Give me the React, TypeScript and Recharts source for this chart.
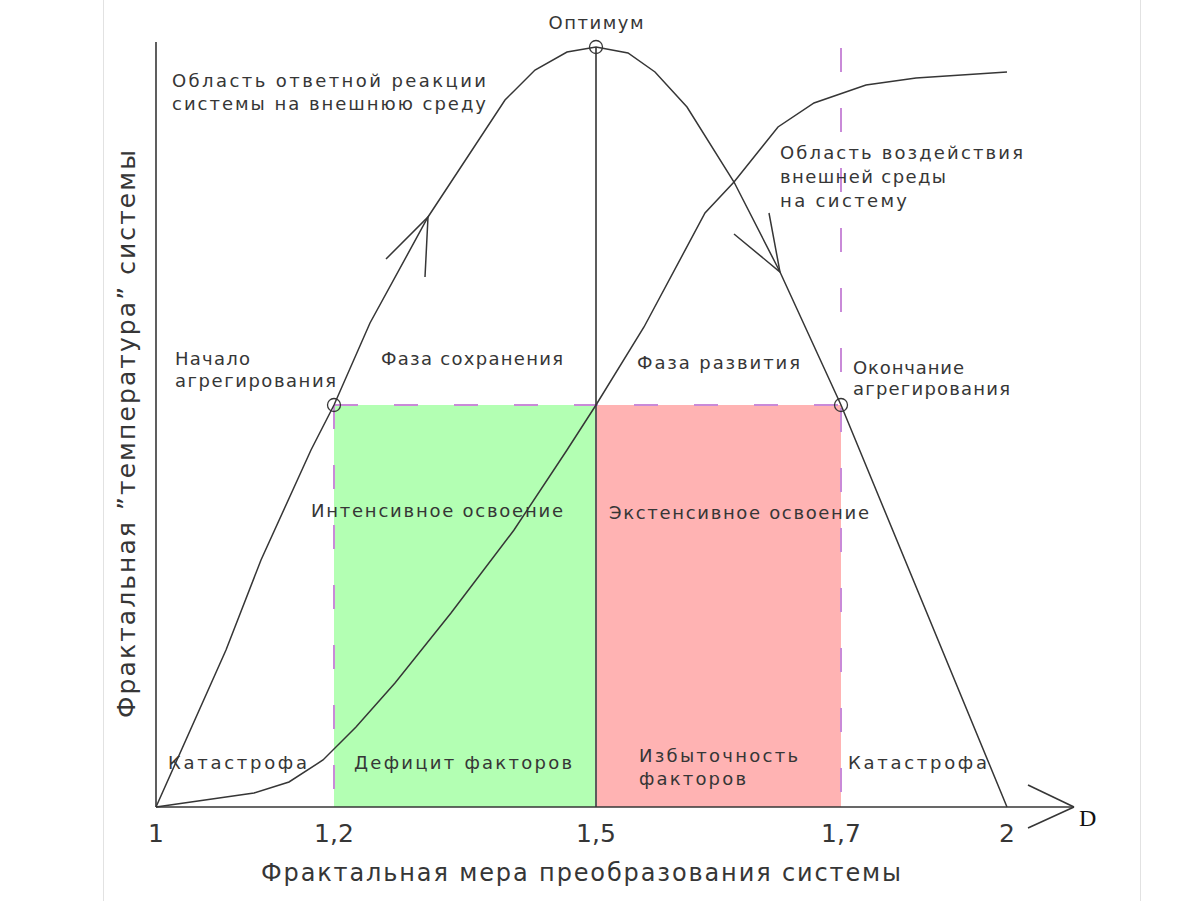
import React from 'react';
import {
  ComposedChart,
  Line,
  Scatter,
  XAxis,
  YAxis,
  ReferenceArea,
  ReferenceLine,
  ReferenceDot,
} from 'recharts';

const FONT = '"DejaVu Sans", "Noto Sans", sans-serif';
const INK = '#363636';
const DASH = '#c98ad8';

// D axis is schematic in the source (ticks not to scale), so x is a position along the axis
const dTicks = [0, 178, 440, 685, 851];
const dLabels = ['1', '1,2', '1,5', '1,7', '2'];

// response of the system to the environment (bell)
const responseCurve = [
  { x: 0, y: 0 },
  { x: 70, y: 157 },
  { x: 105, y: 247 },
  { x: 155, y: 357 },
  { x: 178, y: 402 },
  { x: 214, y: 484 },
  { x: 272, y: 590 },
  { x: 349, y: 707 },
  { x: 379, y: 737 },
  { x: 411, y: 755 },
  { x: 440, y: 760 },
  { x: 472, y: 754 },
  { x: 499, y: 735 },
  { x: 531, y: 700 },
  { x: 578, y: 625 },
  { x: 624, y: 535 },
  { x: 685, y: 402 },
  { x: 851, y: 0 },
];

// impact of the environment on the system (S-curve)
const environmentCurve = [
  { x: 0, y: 0 },
  { x: 98, y: 14 },
  { x: 133, y: 25 },
  { x: 167, y: 47 },
  { x: 200, y: 80 },
  { x: 239, y: 124 },
  { x: 295, y: 194 },
  { x: 358, y: 277 },
  { x: 411, y: 357 },
  { x: 440, y: 402 },
  { x: 488, y: 480 },
  { x: 549, y: 594 },
  { x: 578, y: 625 },
  { x: 622, y: 680 },
  { x: 658, y: 704 },
  { x: 710, y: 722 },
  { x: 760, y: 729 },
  { x: 851, y: 735 },
];

const keyPoints = [
  { x: 178, y: 402 },
  { x: 440, y: 760 },
  { x: 685, y: 402 },
];

const riseArrow = [
  { x: 230, y: 548 },
  { x: 272, y: 590 },
  { x: 269, y: 530 },
];

const fallArrow = [
  { x: 578, y: 573 },
  { x: 624, y: 535 },
  { x: 613, y: 594 },
];

const aggregationLevel = 402;
const optimumLevel = 760;

const notes = [
  { x: 440, y: 785, lines: ['Оптимум'], fit: [95], anchor: 'middle' },
  { x: 16, y: 727, lines: ['Область  ответной  реакции', 'системы  на  внешнюю  среду'], fit: [314, 314] },
  { x: 19, y: 449, lines: ['Начало', 'агрегирования'], fit: [75, 161], gap: 22 },
  { x: 225, y: 449, lines: ['Фаза  сохранения'], fit: [182] },
  { x: 481, y: 445, lines: ['Фаза  развития'], fit: [163] },
  { x: 697, y: 440, lines: ['Окончание', 'агрегирования'], fit: [111, 157], gap: 21 },
  { x: 624, y: 655, lines: ['Область  воздействия', 'внешней  среды', 'на  систему'], fit: [243, 166, 127], gap: 24 },
  { x: 155, y: 297, lines: ['Интенсивное  освоение'], fit: [252] },
  { x: 453, y: 295, lines: ['Экстенсивное  освоение'], fit: [260] },
  { x: 12, y: 45, lines: ['Катастрофа'], fit: [139] },
  { x: 198, y: 45, lines: ['Дефицит  факторов'], fit: [218] },
  { x: 483, y: 52, lines: ['Избыточность', 'факторов'], fit: [159, 107] },
  { x: 692, y: 45, lines: ['Катастрофа'], fit: [139] },
];

const xTitle = 'Фрактальная  мера  преобразования  системы';
const yTitle = 'Фрактальная  ”температура”  системы';

const noteShape = (n: any) => (p: any) => (
  <g>
    {n.lines.map((line: string, i: number) => (
      <text
        key={i}
        x={p.cx}
        y={p.cy + i * (n.gap ?? 23)}
        fill={INK}
        fontSize={n.size ?? 18}
        fontFamily={FONT}
        textAnchor={n.anchor ?? 'start'}
        dominantBaseline="central"
        textLength={n.fit ? n.fit[i] : undefined}
        lengthAdjust="spacing"
        transform={n.rotate ? `rotate(-90 ${p.cx} ${p.cy})` : undefined}
      >
        {line}
      </text>
    ))}
  </g>
);

const ringShape = (p: any) => (
  <circle cx={p.cx} cy={p.cy} r={6.5} fill="none" stroke={INK} strokeWidth={1.3} />
);

export default function App() {
  return (
    <div style={{ position: 'absolute', left: 0, top: 0, width: 1200, height: 901, background: '#fff' }}>
      <div
        style={{
          position: 'absolute',
          left: 103,
          top: 0,
          width: 1036,
          height: 901,
          borderLeft: '1px solid #e2e2e2',
          borderRight: '1px solid #e2e2e2',
        }}
      />
      <div style={{ position: 'absolute', left: 0, top: 0 }}>
        <ComposedChart width={1200} height={901} margin={{ top: 42, right: 126, bottom: 64, left: 150 }}>
          <XAxis
            dataKey="x"
            type="number"
            domain={[0, 918]}
            ticks={dTicks}
            interval={0}
            tickFormatter={(v: number) => dLabels[dTicks.indexOf(v)]}
            tickLine={false}
            tickMargin={11}
            height={30}
            axisLine={{ stroke: INK, strokeWidth: 1.6 }}
            tick={{ fontSize: 25, fill: INK, fontFamily: FONT }}
          />
          <YAxis
            dataKey="y"
            type="number"
            domain={[0, 765]}
            width={6}
            tick={false}
            tickLine={false}
            axisLine={{ stroke: INK, strokeWidth: 1.6 }}
          />

          <ReferenceArea x1={dTicks[1]} x2={dTicks[2]} y1={0} y2={aggregationLevel} fill="#b3ffb3" fillOpacity={1} stroke="none" />
          <ReferenceArea x1={dTicks[2]} x2={dTicks[3]} y1={0} y2={aggregationLevel} fill="#ffb3b3" fillOpacity={1} stroke="none" />

          <ReferenceLine
            segment={[{ x: dTicks[1], y: aggregationLevel }, { x: dTicks[3], y: aggregationLevel }]}
            stroke={DASH}
            strokeWidth={2}
            strokeDasharray="24 36"
          />
          <ReferenceLine
            segment={[{ x: dTicks[1], y: aggregationLevel }, { x: dTicks[1], y: 0 }]}
            stroke={DASH}
            strokeWidth={2}
            strokeDasharray="24 36"
          />
          <ReferenceLine
            segment={[{ x: dTicks[3], y: 759 }, { x: dTicks[3], y: 0 }]}
            stroke={DASH}
            strokeWidth={2}
            strokeDasharray="24 36"
          />
          <ReferenceLine
            segment={[{ x: dTicks[2], y: 0 }, { x: dTicks[2], y: optimumLevel }]}
            stroke="#5c5c5c"
            strokeWidth={2}
          />

          <ReferenceLine segment={[{ x: 872, y: 22 }, { x: 918, y: 0 }]} stroke={INK} strokeWidth={1.6} ifOverflow="visible" />
          <ReferenceLine segment={[{ x: 872, y: -21 }, { x: 918, y: 0 }]} stroke={INK} strokeWidth={1.6} ifOverflow="visible" />

          <Line data={responseCurve} dataKey="y" type="linear" stroke={INK} strokeWidth={1.5} dot={false} isAnimationActive={false} />
          <Line data={environmentCurve} dataKey="y" type="linear" stroke={INK} strokeWidth={1.5} dot={false} isAnimationActive={false} />
          <Line data={riseArrow} dataKey="y" type="linear" stroke={INK} strokeWidth={1.5} dot={false} isAnimationActive={false} />
          <Line data={fallArrow} dataKey="y" type="linear" stroke={INK} strokeWidth={1.5} dot={false} isAnimationActive={false} />
          <Scatter data={keyPoints} dataKey="y" shape={ringShape} isAnimationActive={false} />

          {notes.map((n, i) => (
            <ReferenceDot key={i} x={n.x} y={n.y} r={0} ifOverflow="visible" shape={noteShape(n)} />
          ))}
          <ReferenceDot x={425} y={-66} r={0} ifOverflow="visible" shape={noteShape({ lines: [xTitle], fit: [640], size: 24, anchor: 'middle' })} />
          <ReferenceDot x={-30} y={373} r={0} ifOverflow="visible" shape={noteShape({ lines: [yTitle], fit: [568], size: 25, anchor: 'middle', rotate: true })} />
          <ReferenceDot
            x={923}
            y={-11}
            r={0}
            ifOverflow="visible"
            shape={(p: any) => (
              <text x={p.cx} y={p.cy} fontSize={24} fill="#111" fontFamily='"Liberation Serif", serif' dominantBaseline="central">
                D
              </text>
            )}
          />
        </ComposedChart>
      </div>
    </div>
  );
}
